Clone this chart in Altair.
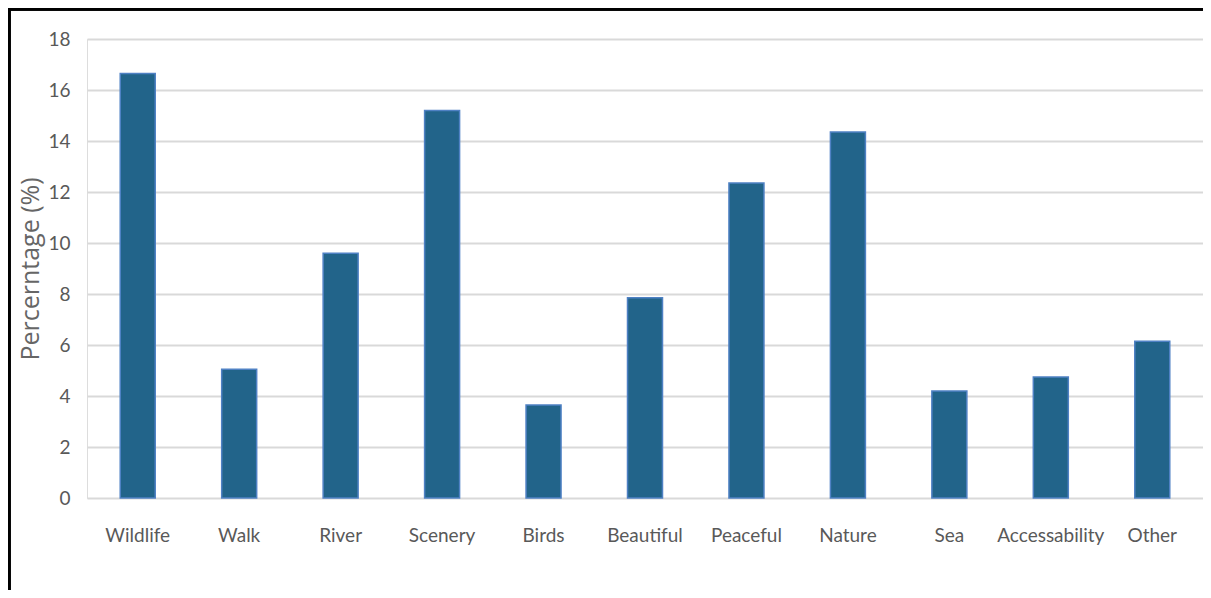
import altair as alt
import pandas as pd

categories = ["Wildlife", "Walk", "River", "Scenery", "Birds", "Beautiful",
              "Peaceful", "Nature", "Sea", "Accessability", "Other"]
values = [16.65, 5.05, 9.6, 15.2, 3.65, 7.85, 12.35, 14.35, 4.2, 4.75, 6.15]
y_ticks = [0, 2, 4, 6, 8, 10, 12, 14, 16, 18]

df = pd.DataFrame({"category": categories, "value": values})

W, H = 1116, 459
LFONT = "Lato"
TFONT = "Open Sans"
GRAY = "#595959"

bars = alt.Chart(df).mark_bar(
    size=35, color="#22648a", stroke="#4f81c4", strokeWidth=1.5
).encode(
    x=alt.X("category:N", sort=categories,
            scale=alt.Scale(paddingInner=0, paddingOuter=0),
            axis=alt.Axis(title=None, labelAngle=0, ticks=False, domain=False,
                          labelFont=LFONT, labelFontSize=19, labelColor=GRAY,
                          labelPadding=28, grid=False)),
    y=alt.Y("value:Q", scale=alt.Scale(domain=[0, 18], nice=False),
            axis=alt.Axis(values=y_ticks, title="Percerntage (%)", ticks=False,
                          domain=False, grid=True, gridColor="#d9d9d9",
                          gridWidth=2, labelFont=LFONT, labelFontSize=19,
                          labelColor=GRAY, labelPadding=17,
                          titleFont=TFONT, titleFontSize=25, titleColor="#666666",
                          titleFontWeight="normal", titlePadding=4)),
)

top_border = alt.Chart(df).mark_rule(color="#000000", strokeWidth=2.5).encode(
    x=alt.value(-80), x2=alt.value(W + 10), y=alt.value(-30)
)
left_border = alt.Chart(df).mark_rule(color="#000000", strokeWidth=2.5).encode(
    x=alt.value(-78), y=alt.value(-31), y2=alt.value(H + 100)
)

chart = alt.layer(bars, top_border, left_border).properties(
    width=W, height=H,
    autosize=alt.AutoSizeParams(type="none"),
    padding={"left": 79, "top": 31, "right": 0, "bottom": 92},
).configure_view(stroke=None).configure(background="white")

chart.save("out.html", embed_options={"renderer": "svg", "actions": False})
